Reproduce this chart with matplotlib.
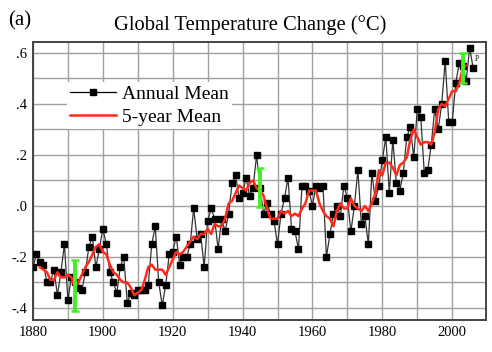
import matplotlib
matplotlib.use("Agg")
import matplotlib.pyplot as plt
from matplotlib.lines import Line2D

plt.rcParams["font.family"] = ["Liberation Serif", "DejaVu Serif"]

# annual mean temperature anomaly (deg C)
years = list(range(1880, 2007))
annual = [
    -0.24, -0.19, -0.22, -0.23, -0.30, -0.30, -0.25, -0.35, -0.26, -0.15,  # 1880s
    -0.37, -0.28, -0.30, -0.32, -0.33, -0.26, -0.16, -0.12, -0.24, -0.17,  # 1890s
    -0.09, -0.15, -0.26, -0.30, -0.34, -0.24, -0.20, -0.38, -0.34, -0.35,  # 1900s
    -0.33, -0.33, -0.33, -0.31, -0.15, -0.08, -0.30, -0.39, -0.31, -0.19,  # 1910s
    -0.18, -0.12, -0.23, -0.20, -0.20, -0.15, -0.01, -0.13, -0.11, -0.24,  # 1920s
    -0.06, -0.01, -0.05, -0.17, -0.05, -0.10, -0.03, 0.09, 0.12, 0.03,    # 1930s
    0.05, 0.11, 0.04, 0.07, 0.20, 0.07, -0.03, 0.01, -0.03, -0.06,        # 1940s
    -0.15, -0.03, 0.03, 0.11, -0.09, -0.10, -0.17, 0.08, 0.08, 0.06,      # 1950s
    0.00, 0.08, 0.07, 0.08, -0.20, -0.11, -0.03, 0.00, -0.04, 0.08,       # 1960s
    0.03, -0.10, 0.00, 0.14, -0.07, -0.04, -0.15, 0.13, 0.02, 0.08,       # 1970s
    0.18, 0.27, 0.05, 0.26, 0.09, 0.06, 0.13, 0.27, 0.31, 0.19,           # 1980s
    0.38, 0.35, 0.13, 0.14, 0.24, 0.38, 0.30, 0.40, 0.57, 0.33,           # 1990s
    0.33, 0.48, 0.56, 0.55, 0.49, 0.62, 0.54,                             # 2000s
]

# 5-year running mean, 1882-2004
years5 = list(range(1882, 2005))
mean5 = [
    -0.24, -0.25, -0.26, -0.29, -0.29, -0.26, -0.28, -0.28,                # 1882-1889
    -0.27, -0.28, -0.32, -0.30, -0.27, -0.24, -0.22, -0.19, -0.16, -0.15,  # 1890s
    -0.18, -0.19, -0.23, -0.26, -0.27, -0.29, -0.30, -0.30, -0.32, -0.35,  # 1900s
    -0.34, -0.33, -0.29, -0.24, -0.23, -0.25, -0.25, -0.25, -0.27, -0.24,  # 1910s
    -0.21, -0.18, -0.19, -0.18, -0.16, -0.14, -0.12, -0.13, -0.11, -0.11,  # 1920s
    -0.09, -0.11, -0.07, -0.08, -0.08, -0.05, 0.01, 0.02, 0.05, 0.08,      # 1930s
    0.07, 0.06, 0.09, 0.10, 0.07, 0.06, 0.04, -0.01, -0.05, -0.05,        # 1940s
    -0.05, -0.02, -0.03, -0.02, -0.04, -0.03, -0.04, -0.01, 0.01, 0.06,   # 1950s
    0.06, 0.06, 0.01, -0.02, -0.04, -0.05, -0.08, -0.02, 0.01, -0.01,     # 1960s
    -0.01, 0.03, 0.00, -0.01, -0.02, 0.00, -0.02, 0.01, 0.05, 0.14,       # 1970s
    0.12, 0.17, 0.17, 0.15, 0.12, 0.16, 0.17, 0.19, 0.26, 0.30,           # 1980s
    0.27, 0.24, 0.25, 0.25, 0.24, 0.29, 0.38, 0.40, 0.39, 0.42,           # 1990s
    0.45, 0.45, 0.48, 0.54, 0.55,                                         # 2000-2004
]

# green uncertainty bars
err_years = [1892, 1945, 2003]
err_center = [-0.31, 0.072, 0.54]
err_half = [0.10, 0.075, 0.06]

fig = plt.figure(figsize=(4.92, 3.52), dpi=100)
ax = fig.add_axes([0.067, 0.091, 0.921, 0.790])

ax.plot(years, annual, color="#333333", lw=0.9, marker="s", ms=4.2,
        mfc="black", mec="black", zorder=3)
ax.plot(years5, mean5, color="#ff2a1a", lw=1.8, zorder=4)
ax.errorbar(err_years, err_center, yerr=err_half, fmt="none",
            ecolor="#44ee22", elinewidth=2.8, capsize=3, capthick=1.8, zorder=5)
ax.text(2006.6, 0.575, "P", fontsize=5.5, ha="left", va="center")

ax.set_xlim(1880, 2009.7)
ax.set_ylim(-0.447, 0.643)
ax.set_xticks(range(1880, 2010, 10))
ax.set_xticklabels([str(y) if y % 20 == 0 else "" for y in range(1880, 2010, 10)])
yt = [-0.4, -0.3, -0.2, -0.1, 0.0, 0.1, 0.2, 0.3, 0.4, 0.5, 0.6]
ylabs = {-0.4: "-.4", -0.2: "-.2", 0.0: ".0", 0.2: ".2", 0.4: ".4", 0.6: ".6"}
ax.set_yticks(yt)
ax.set_yticklabels([ylabs.get(round(v, 1), "") for v in yt])
ax.tick_params(length=0, labelsize=10.5, pad=4)
ax.grid(True, color="#a0a0a0", lw=1.0)
ax.set_axisbelow(True)
for s in ax.spines.values():
    s.set_color("#444444")
    s.set_linewidth(1.4)

leg = ax.legend([Line2D([], [], color="black", lw=0.9, marker="s", ms=4.2),
                 Line2D([], [], color="#ff2a1a", lw=1.8)],
                ["Annual Mean", "5-year Mean"],
                loc="upper left", bbox_to_anchor=(0.053, 0.89),
                frameon=True, fancybox=False, edgecolor="none", framealpha=1,
                fontsize=14, handlelength=2.4, handletextpad=0.3,
                labelspacing=0.3, borderpad=0.15, numpoints=1)
leg.set_zorder(6)

fig.text(0.508, 0.93, "Global Temperature Change (\u00b0C)", fontsize=14.8,
         ha="center", va="center")
fig.text(0.016, 0.94, "(a)", fontsize=15, ha="left", va="center")

fig.savefig("out.png", dpi=100)
